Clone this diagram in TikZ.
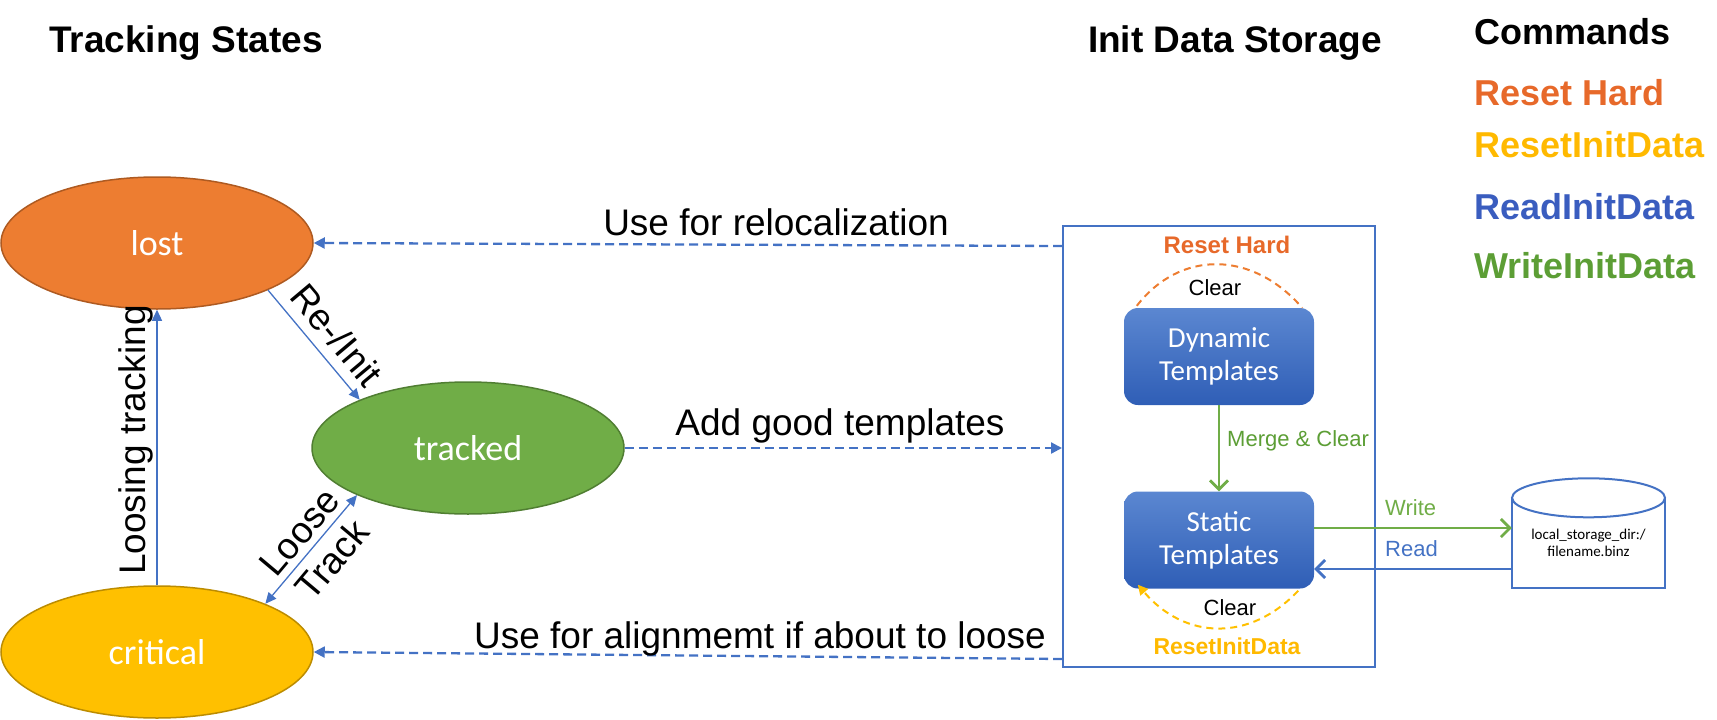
\documentclass[tikz,border=0pt]{standalone}
\usepackage{fontspec}
\setmainfont{Liberation Sans}
\newfontfamily\calfont{Carlito}
\usetikzlibrary{shapes.geometric,arrows.meta,calc}
\definecolor{cOrange}{HTML}{ED7D31}
\definecolor{cOrangeD}{HTML}{AE5A21}
\definecolor{cGreen}{HTML}{70AD47}
\definecolor{cGreenD}{HTML}{507E32}
\definecolor{cYellow}{HTML}{FFC000}
\definecolor{cYellowD}{HTML}{BC8C00}
\definecolor{cBlue}{HTML}{4472C4}
\definecolor{tOrange}{HTML}{E7692A}
\definecolor{tYellow}{HTML}{FFB900}
\definecolor{tBlue}{HTML}{3A5DBF}
\definecolor{tGreen}{HTML}{5C9E35}
\definecolor{boxTop}{HTML}{5B87D1}
\definecolor{boxBot}{HTML}{2F5EB6}
\newcommand{\fsz}[2]{\fontsize{#1pt}{#2pt}\selectfont}
\begin{document}
\begin{tikzpicture}[x=1pt,y=-1pt,
  state/.style={ellipse, draw, line width=1.5pt, minimum width=312pt, minimum height=132pt, inner sep=0pt, text=white, font=\calfont\fsz{36}{43}},
  title/.style={font=\bfseries\fsz{37}{44}, anchor=base, inner sep=0pt},
  cmd/.style={font=\bfseries\fsz{36}{43}, anchor=base west, inner sep=0pt},
  lbl/.style={font=\fsz{37}{43}, inner sep=0pt},
  tmpl/.style={rounded corners=14pt, top color=boxTop, bottom color=boxBot, minimum width=190pt, minimum height=97pt, text=white, align=center, font=\calfont\fsz{29}{33}, inner sep=0pt},
  thinarrow/.style={draw=cBlue, line width=1.3pt, -{Triangle[length=11pt,width=10pt]}},
  dasharrow/.style={draw=cBlue, line width=2.3pt, dash pattern=on 9pt off 5pt, -{Triangle[length=11pt,width=11pt]}},
  bigarrow/.style={line width=2.7pt, -{Straight Barb[length=9pt,width=18pt]}},
  small/.style={font=\fsz{22}{26}, inner sep=0pt},
  arcline/.style={line width=2pt, dash pattern=on 7pt off 5pt},
]
\useasboundingbox (0,0) rectangle (1717,720);

% titles and legend
\node[title] (t1) at (186,52) {Tracking States};
\node[title] (t2) at (1235,52) {Init Data Storage};
\node[cmd] (c0) at (1474,45) {Commands};
\node[cmd, text=tOrange] (c1) at (1474,105) {Reset Hard};
\node[cmd, text=tYellow] (c2) at (1474,157) {ResetInitData};
\node[cmd, text=tBlue] (c3) at (1474,219) {ReadInitData};
\node[cmd, text=tGreen] (c4) at (1474,278) {WriteInitData};

% states
\node[state, fill=cOrange, draw=cOrangeD] (lost) at (157,243) {lost};
\node[state, fill=cGreen, draw=cGreenD] (tr) at (468,448) {tracked};
\node[state, fill=cYellow, draw=cYellowD] (crit) at (157,652) {critical};

% storage
\node[draw=cBlue, line width=2pt, minimum width=312pt, minimum height=441pt, inner sep=0pt] (store) at (1219,446.5) {};
\node[tmpl] (dyn) at (1219,356.5) {Dynamic\\Templates};
\node[tmpl] (stat) at (1219,540) {Static\\Templates};
\draw[bigarrow, cGreen] (dyn) -- (stat);
\node[small, text=tGreen, anchor=west] (merge) at (1227,441) {Merge \& Clear};

\node[font=\bfseries\fsz{24}{28}, text=tOrange, inner sep=0pt] (rh) at (1227,245) {Reset Hard};
\coordinate (oa) at ($(dyn.north west)+(13,-2)$);
\coordinate (ob) at ($(dyn.north east)+(-12,0)$);
\draw[arcline, cOrange] (oa) .. controls (1180,250) and (1252,250) .. (ob);
\node[small] (clr1) at (1215,288) {Clear};

\coordinate (ya) at ($(stat.south east)+(-16,2)$);
\coordinate (yb) at ($(stat.south west)+(14,-4)$);
\draw[arcline, cYellow, -{Triangle[length=10pt,width=10pt]}] (ya) .. controls (1250,642) and (1185,640) .. (yb);
\node[small] (clr2) at (1230,608) {Clear};
\node[font=\bfseries\fsz{23}{27}, text=tYellow, inner sep=0pt] (rid) at (1227,646) {ResetInitData};

% disk
\node[minimum width=153pt, minimum height=90pt, inner sep=0pt, align=center, font=\calfont\fsz{15}{17}] (disk) at (1588.5,543) {local\_storage\_dir:/\\filename.binz};
\draw[cBlue, line width=2pt] (disk.north west) -- (disk.south west) -- (disk.south east) -- (disk.north east);
\draw[cBlue, line width=2pt, fill=white] (disk.north) ellipse [x radius=76.5pt, y radius=19.5pt];

\coordinate (wy) at (0,528);
\coordinate (ry) at (0,569);
\draw[bigarrow, cGreen] (stat.east |- wy) -- (disk.west |- wy);
\draw[bigarrow, cBlue] (disk.west |- ry) -- (stat.east |- ry);
\node[small, text=cGreen, anchor=west] (wl) at (1385,508) {Write};
\node[small, text=cBlue, anchor=west] (rl) at (1385,549) {Read};

% dashed connectors
\coordinate (in1) at ($(store.north west)+(0,21)$);
\coordinate (in2) at (store.west |- tr.east);
\coordinate (in3) at ($(store.south west)+(0,-9)$);
\draw[dasharrow] (in1) -- (lost.east);
\draw[dasharrow] (tr.east) -- (in2);
\draw[dasharrow] (in3) -- (crit.east);
\node[lbl, anchor=base] (l1) at (776,235) {Use for relocalization};
\node[lbl, anchor=base] (l2) at (840,435) {Add good templates};
\node[lbl, anchor=base] (l3) at (760,648) {Use for alignmemt if about to loose};

% state transitions
\draw[thinarrow] (crit.north) -- (lost.south);
\draw[thinarrow] (lost.337) -- (tr.156);
\draw[thinarrow, {Triangle[length=11pt,width=10pt]}-{Triangle[length=11pt,width=10pt]}] (tr.203) -- (crit.24);
\node[lbl, rotate=90, anchor=base] (ll) at (145,440) {Loosing tracking};
\node[lbl, rotate=-50] (lr) at (337,335) {Re-/Init};
\node[lbl, rotate=50, align=center] (lt) at (316,546) {Loose\\Track};
\end{tikzpicture}
\end{document}
